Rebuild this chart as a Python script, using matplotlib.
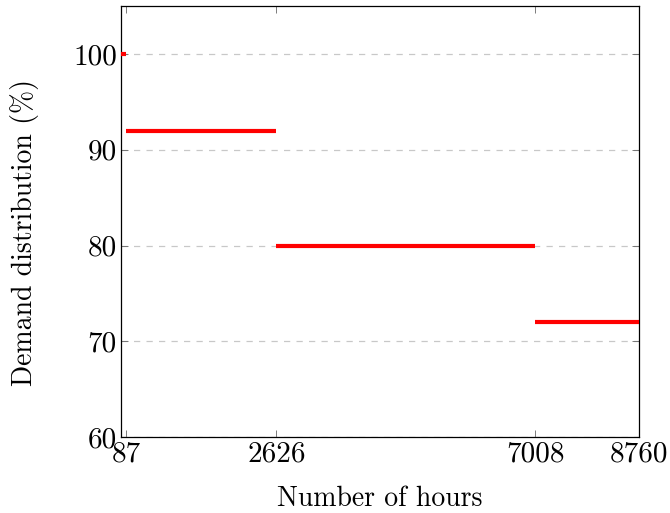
import matplotlib
matplotlib.use("Agg")
import matplotlib.pyplot as plt

plt.rcParams['font.family'] = ['cmr10', 'DejaVu Serif']
plt.rcParams['mathtext.fontset'] = 'cm'
plt.rcParams['axes.formatter.use_mathtext'] = True

seg_start = [0, 87, 2626, 7008]
seg_end = [87, 2626, 7008, 8760]
seg_value = [100, 92, 80, 72]
xticks = [87, 2626, 7008, 8760]
yticks = [60, 70, 80, 90, 100]

fig = plt.figure(figsize=(6.7, 5.13), dpi=100)
ax = fig.add_axes([0.1806, 0.148, 0.773, 0.840])

for s, e, v in zip(seg_start, seg_end, seg_value):
    ax.plot([s, e], [v, v], color='#ff0000', lw=3.0, solid_capstyle='butt', zorder=3)

ax.set_xlim(0, 8760)
ax.set_ylim(60, 105)
ax.set_xticks(xticks)
ax.set_xticklabels([str(t) for t in xticks])
ax.set_yticks(yticks)
ax.set_yticklabels([str(t) for t in yticks])
ax.yaxis.grid(True, linestyle=(0, (5, 5)), color='#c8c8c8', lw=0.9)
ax.tick_params(direction='in', top=True, right=True, length=5, width=0.6,
               colors='#666666', labelcolor='black', labelsize=21, pad=3)
for sp in ax.spines.values():
    sp.set_linewidth(0.9)
ax.set_xlabel('Number of hours', fontsize=20, labelpad=13)
ax.set_ylabel('Demand distribution (%)', fontsize=20)
ax.yaxis.set_label_coords(-0.158, 0.475)

fig.savefig('out.png', dpi=100)
